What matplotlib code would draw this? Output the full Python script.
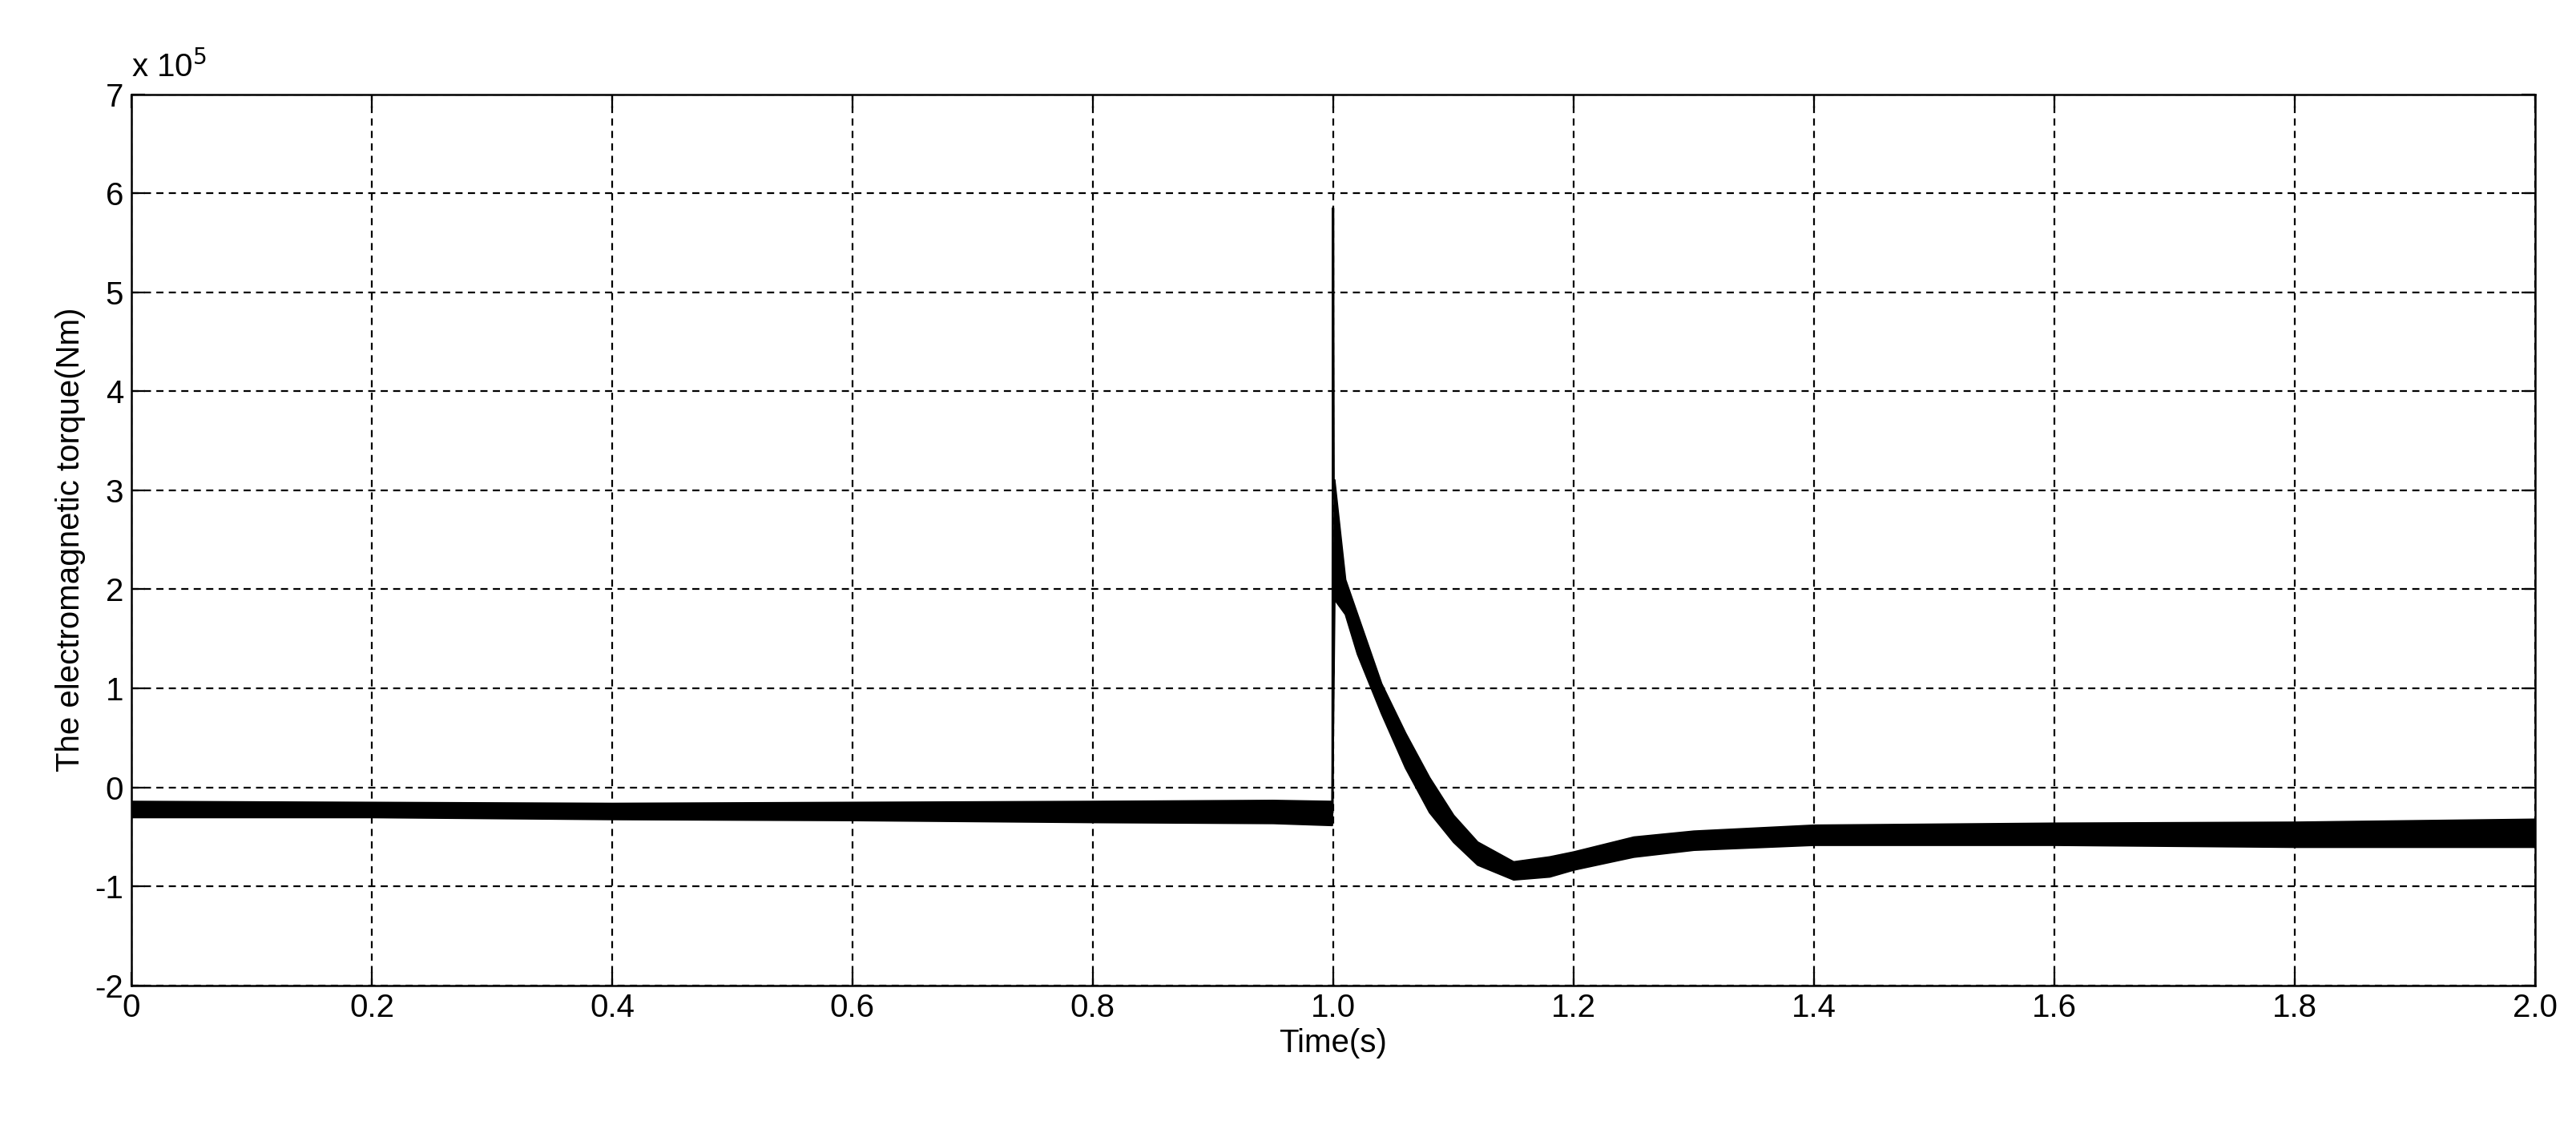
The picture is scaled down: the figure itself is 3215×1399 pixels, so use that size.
import numpy as np
import matplotlib.pyplot as plt
import matplotlib

matplotlib.rcParams['font.family'] = ['Liberation Sans', 'DejaVu Sans']
matplotlib.rcParams['axes.unicode_minus'] = False

# envelope of the noisy torque trace, units of 1e5 Nm
t_env = [0.0, 0.2, 0.4, 0.6, 0.8, 0.95, 0.999, 1.001, 1.01, 1.02, 1.04, 1.06, 1.08,
         1.10, 1.12, 1.15, 1.18, 1.20, 1.25, 1.30, 1.40, 1.60, 1.80, 2.0]
upper = [-0.14, -0.15, -0.16, -0.15, -0.14, -0.13, -0.14, 3.1, 2.1, 1.75, 1.05, 0.55,
         0.10, -0.28, -0.55, -0.75, -0.70, -0.65, -0.50, -0.44, -0.38, -0.36, -0.35, -0.32]
lower = [-0.30, -0.30, -0.32, -0.33, -0.35, -0.36, -0.38, 1.9, 1.75, 1.35, 0.75, 0.20,
         -0.25, -0.55, -0.78, -0.93, -0.90, -0.83, -0.70, -0.63, -0.58, -0.58, -0.60, -0.60]
# switching transient spike at t = 1.0 s
t_spike = [0.9995, 1.0, 1.0005, 1.001]
v_spike = [-0.25, 5.85, 3.0, 3.1]

fig, ax = plt.subplots(figsize=(16.075, 6.995), dpi=200)
fig.subplots_adjust(left=0.051, right=0.984, bottom=0.121, top=0.916)

ax.fill_between(t_env, lower, upper, color='black', linewidth=0.8)
ax.plot(t_spike, v_spike, color='black', linewidth=1.0)

ax.set_xlim(0, 2.0)
ax.set_ylim(-2, 7)
ax.set_xticks(np.arange(0, 2.01, 0.2))
ax.set_xticklabels(['0', '0.2', '0.4', '0.6', '0.8', '1.0', '1.2', '1.4', '1.6', '1.8', '2.0'])
ax.set_yticks(range(-2, 8))
ax.tick_params(direction='in', top=True, right=True, labelsize=14.5, length=6)
ax.grid(True, color='black', linestyle=(0, (4, 3)), linewidth=0.8)
ax.set_xlabel('Time(s)', fontsize=14.5, labelpad=2)
ax.set_ylabel('The electromagnetic torque(Nm)', fontsize=14.5, labelpad=4)
ax.text(0.0, 1.012, r'x 10$^5$', transform=ax.transAxes, fontsize=14.5, ha='left', va='bottom')
for s in ax.spines.values():
    s.set_linewidth(0.9)

fig.savefig('out.png', dpi=200)
